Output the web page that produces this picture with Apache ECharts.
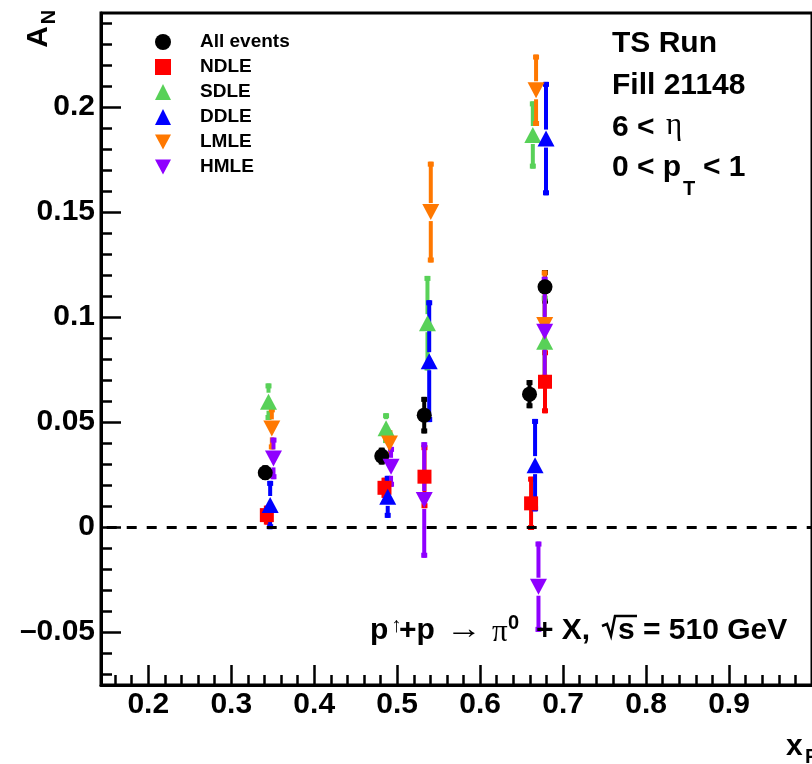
<!DOCTYPE html>
<html><head><meta charset="utf-8">
<script src="https://cdn.jsdelivr.net/npm/echarts@6/dist/echarts.min.js"></script>
<style>html,body{margin:0;padding:0;background:#fff}#c{width:812px;height:764px}</style>
</head><body><div id="c"></div>
<script>
// ---------------- data ----------------
const seriesNames = ['All events', 'NDLE', 'SDLE', 'DDLE', 'LMLE', 'HMLE'];

const allX  = [0.3410, 0.4814, 0.5326, 0.6595, 0.6782];
const allY  = [0.0259, 0.0338, 0.0533, 0.0633, 0.1144];
const allE  = [0.0035, 0.0040, 0.0087, 0.0067, 0.0080];

const ndleX = [0.3429, 0.4847, 0.5329, 0.6614, 0.6782];
const ndleY = [0.0057, 0.0187, 0.0240, 0.0113, 0.0692];
const ndleE = [0.0045, 0.0048, 0.0150, 0.0127, 0.0150];

const sdleX = [0.3449, 0.4866, 0.5365, 0.6635, 0.6778];
const sdleY = [0.0597, 0.0471, 0.0971, 0.1867, 0.0882];
const sdleE = [0.0087, 0.0071, 0.0225, 0.0160, 0.0220];

const ddleX = [0.3469, 0.4886, 0.5386, 0.6662, 0.6794];
const ddleY = [0.0105, 0.0144, 0.0790, 0.0295, 0.1850];
const ddleE = [0.0115, 0.0100, 0.0290, 0.0220, 0.0270];

const lmleX = [0.3489, 0.4907, 0.5405, 0.6674, 0.6778];
const lmleY = [0.0470, 0.0398, 0.1500, 0.2080, 0.0962];
const lmleE = [0.0100, 0.0063, 0.0240, 0.0170, 0.0260];

const hmleX = [0.3509, 0.4926, 0.5326, 0.6703, 0.6778];
const hmleY = [0.0327, 0.0287, 0.0129, -0.0284, 0.0930];
const hmleE = [0.0099, 0.0095, 0.0275, 0.0215, 0.0262];

const xMajorTicks = [0.2, 0.3, 0.4, 0.5, 0.6, 0.7, 0.8, 0.9];
const xMinorTicks = [0.16, 0.18, 0.22, 0.24, 0.26, 0.28, 0.32, 0.34, 0.36, 0.38,
  0.42, 0.44, 0.46, 0.48, 0.52, 0.54, 0.56, 0.58, 0.62, 0.64, 0.66, 0.68,
  0.72, 0.74, 0.76, 0.78, 0.82, 0.84, 0.86, 0.88, 0.92, 0.94, 0.96, 0.98];
const yMajorTicks = [-0.05, 0, 0.05, 0.1, 0.15, 0.2];
const yMinorTicks = [-0.07, -0.06, -0.04, -0.03, -0.02, -0.01, 0.01, 0.02, 0.03, 0.04,
  0.06, 0.07, 0.08, 0.09, 0.11, 0.12, 0.13, 0.14, 0.16, 0.17, 0.18, 0.19,
  0.21, 0.22, 0.23, 0.24];

const X_MIN = 0.143, X_MAX = 1.0;
const Y_MIN = -0.0752, Y_MAX = 0.2448;

// ---------------- styles ----------------
const FONT = '"Liberation Sans", Arial, Helvetica, sans-serif';
const SERIF = '"Liberation Serif", "DejaVu Serif", serif';
const DOWN = 'path://M0,0L20,0L10,19Z';
const styles = [
  { color: '#000000', symbol: 'circle', size: 15, gap: 0 },
  { color: '#ff0000', symbol: 'rect', size: 14, gap: 0 },
  { color: '#58d158', symbol: 'triangle', size: [17, 16], gap: 9 },
  { color: '#0000ff', symbol: 'triangle', size: [17, 16], gap: 9 },
  { color: '#ff7800', symbol: DOWN, size: [17, 16], gap: 9 },
  { color: '#8f00ff', symbol: DOWN, size: [17, 16], gap: 9 }
];
const legendIcons = ['circle', 'rect', 'triangle', 'triangle', DOWN, DOWN];

const dataSets = [
  [allX, allY, allE], [ndleX, ndleY, ndleE], [sdleX, sdleY, sdleE],
  [ddleX, ddleY, ddleE], [lmleX, lmleY, lmleE], [hmleX, hmleY, hmleE]
];

function errRenderer(color, gap) {
  return function (params, api) {
    const x = api.value(0), y = api.value(1), e = api.value(2);
    const c = api.coord([x, y]);
    const t = api.coord([x, y + e])[1];
    const b = api.coord([x, y - e])[1];
    const w = 4, cw = 6, chh = 5;
    const children = [];
    const segs = [[t, c[1] - gap], [c[1] + gap, b]];
    segs.forEach(function (s) {
      if (s[1] - s[0] > 0.5) {
        children.push({ type: 'rect', shape: { x: c[0] - w / 2, y: s[0], width: w, height: s[1] - s[0] }, style: { fill: color } });
      }
    });
    if (c[1] - t > gap + 1) children.push({ type: 'rect', shape: { x: c[0] - cw / 2, y: t, width: cw, height: chh }, style: { fill: color } });
    if (b - c[1] > gap + 1) children.push({ type: 'rect', shape: { x: c[0] - cw / 2, y: b - chh, width: cw, height: chh }, style: { fill: color } });
    return { type: 'group', children: children };
  };
}

const series = [];
dataSets.forEach(function (ds, i) {
  const st = styles[i];
  const pts = ds[0].map(function (x, k) { return [x, ds[1][k], ds[2][k]]; });
  const errSeries = {
    type: 'custom', name: seriesNames[i] + ' err', xAxisIndex: 0, yAxisIndex: 0,
    data: pts, renderItem: errRenderer(st.color, st.gap), silent: true,
    encode: { x: 0, y: 1 }
  };
  if (i === 0) {
    errSeries.markLine = {
      silent: true, symbol: ['none', 'none'], label: { show: false },
      lineStyle: { type: [10, 10], dashOffset: 14.3, width: 3, color: '#000' },
      data: [{ yAxis: 0 }], animation: false
    };
  }
  series.push(errSeries);
  series.push({
    type: 'scatter', name: seriesNames[i], xAxisIndex: 0, yAxisIndex: 0,
    data: pts.map(function (p) { return [p[0], p[1]]; }),
    symbol: st.symbol, symbolSize: st.size,
    itemStyle: { color: st.color, opacity: 1 }, silent: true
  });
});

function txt(text, x, y, size, opt) {
  opt = opt || {};
  return {
    type: 'text', x: x, y: y, rotation: opt.rot || 0, scaleX: opt.sx || 1, z: 100,
    style: {
      text: text, fill: '#000',
      font: (opt.weight || 'bold') + ' ' + size + 'px ' + (opt.family || FONT),
      align: opt.align || 'left', verticalAlign: 'middle'
    }
  };
}

const graphics = [
  // top right annotations
  txt('TS Run', 612, 44, 30),
  txt('Fill 21148', 612, 86, 30),
  txt('6 <', 612, 128, 30),
  txt('\u03b7', 666, 126, 31, { weight: 'normal', family: SERIF }),
  txt('0 < p', 612, 168, 30),
  txt('T', 683, 189, 20),
  txt('< 1', 703, 168, 30),
  // bottom formula
  txt('p', 370, 631, 30),
  txt('\u2191', 391, 626, 21, { weight: 'normal', family: SERIF }),
  txt('+p', 399, 631, 30),
  txt('\u2192', 446, 630, 30, { weight: 'normal', family: SERIF, sx: 1.2 }),
  txt('\u03c0', 492, 633, 31, { weight: 'normal', family: SERIF }),
  txt('0', 508, 623, 20),
  txt('+ X,', 536, 631, 30),
  { type: 'polyline', z: 100, shape: { points: [[602, 626], [607, 624], [611, 636], [615, 616], [637, 616]] },
    style: { stroke: '#000', lineWidth: 2.5, fill: null } },
  txt('s', 618, 631, 30),
  txt('= 510 GeV', 643, 631, 30),
  // axis titles
  txt('A', 39, 37, 30, { rot: Math.PI / 2, align: 'center' }),
  txt('N', 49, 17, 20, { rot: Math.PI / 2, align: 'center' }),
  txt('x', 786, 747, 30),
  txt('F', 805, 757, 20)
];

const chart = echarts.init(document.getElementById('c'), null, { renderer: 'canvas' });
chart.setOption({
  animation: false,
  backgroundColor: '#fff',
  grid: { left: 101, top: 13, width: 715, height: 672, show: true, borderColor: '#000', borderWidth: 3, backgroundColor: 'transparent' },
  xAxis: [
    {
      type: 'value', min: X_MIN, max: X_MAX, position: 'bottom',
      axisLine: { show: true, onZero: false, lineStyle: { color: '#000', width: 3 } },
      axisTick: { show: true, inside: true, length: 20, customValues: xMajorTicks, lineStyle: { color: '#000', width: 2.5 } },
      axisLabel: { show: true, customValues: xMajorTicks, margin: 5, fontSize: 30, fontWeight: 'bold', fontFamily: FONT, color: '#000',
        formatter: function (v) { return String(+v.toFixed(3)); } },
      splitLine: { show: false }
    },
    {
      type: 'value', min: X_MIN, max: X_MAX, position: 'bottom',
      axisLine: { show: false, onZero: false },
      axisTick: { show: true, inside: true, length: 10, customValues: xMinorTicks, lineStyle: { color: '#000', width: 2.5 } },
      axisLabel: { show: false }, splitLine: { show: false }
    }
  ],
  yAxis: [
    {
      type: 'value', min: Y_MIN, max: Y_MAX, position: 'left',
      axisLine: { show: true, onZero: false, lineStyle: { color: '#000', width: 3 } },
      axisTick: { show: true, inside: true, length: 20, customValues: yMajorTicks, lineStyle: { color: '#000', width: 2.5 } },
      axisLabel: { show: true, customValues: yMajorTicks, margin: 6, fontSize: 30, fontWeight: 'bold', fontFamily: FONT, color: '#000',
        formatter: function (v) { const s = String(+(+v).toFixed(3)); return s.replace('-', '\u2013'); } },
      splitLine: { show: false }
    },
    {
      type: 'value', min: Y_MIN, max: Y_MAX, position: 'left',
      axisLine: { show: false, onZero: false },
      axisTick: { show: true, inside: true, length: 11, customValues: yMinorTicks, lineStyle: { color: '#000', width: 2.5 } },
      axisLabel: { show: false }, splitLine: { show: false }
    }
  ],
  legend: {
    orient: 'vertical', left: 155, top: 32.5, padding: 0,
    itemWidth: 16, itemHeight: 16, itemGap: 6,
    selectedMode: false,
    textStyle: { fontSize: 19, lineHeight: 19, fontWeight: 'bold', fontFamily: FONT, color: '#000', padding: [0, 0, 0, 24] },
    data: seriesNames.map(function (n, i) { return { name: n, icon: legendIcons[i] }; })
  },
  graphic: graphics,
  series: series
});
</script>
</body></html>
